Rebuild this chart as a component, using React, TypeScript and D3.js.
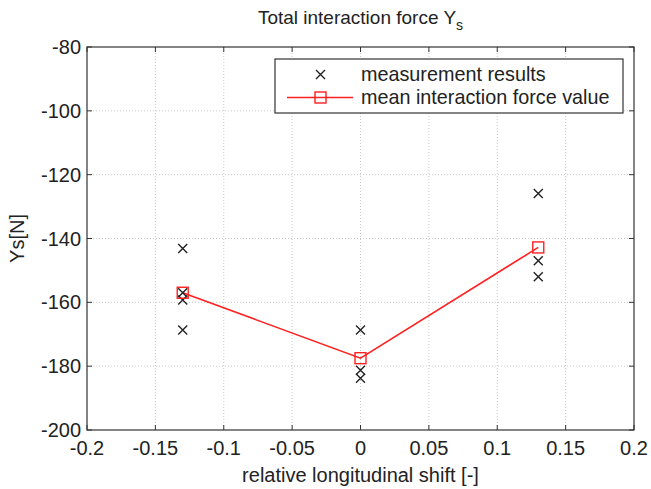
import React from "react";
import * as d3 from "d3";

const shifts = [-0.13, 0, 0.13];
const measurements: number[][] = [
  [-143.1, -157.0, -159.3, -168.7],
  [-168.7, -181.3, -183.8],
  [-125.9, -147.0, -152.0],
];
const means = [-157.0, -177.5, -142.8];
const xTicks = [-0.2, -0.15, -0.1, -0.05, 0, 0.05, 0.1, 0.15, 0.2];
const yTicks = [-80, -100, -120, -140, -160, -180, -200];

const W = 651, H = 489;
const L = 87, R = 634, T = 47, B = 430;
const FONT = "'Liberation Sans', Arial, sans-serif";

export default function App() {
  const x = d3.scaleLinear().domain([-0.2, 0.2]).range([L, R]);
  const y = d3.scaleLinear().domain([-200, -80]).range([B, T]);
  const line = d3.line<number>().x((_, i) => x(shifts[i])).y((d) => y(d));
  const tick = 5;
  const cross = (cx: number, cy: number, s: number, key: string) => (
    <path key={key} d={`M${cx - s},${cy - s}L${cx + s},${cy + s}M${cx - s},${cy + s}L${cx + s},${cy - s}`} stroke="#222" strokeWidth={1.4} fill="none" />
  );
  const sq = 5.5;
  return (
    <svg width={W} height={H} style={{ position: "absolute", left: 0, top: 0, background: "#fff" }} fontFamily={FONT}>
      <rect x={0} y={0} width={W} height={H} fill="#fff" />
      {/* grid */}
      {xTicks.slice(1, -1).map((t) => (
        <line key={"gx" + t} x1={x(t)} x2={x(t)} y1={T} y2={B} stroke="#c8c8c8" strokeWidth={1} strokeDasharray="1,2" />
      ))}
      {yTicks.slice(1, -1).map((t) => (
        <line key={"gy" + t} x1={L} x2={R} y1={y(t)} y2={y(t)} stroke="#c8c8c8" strokeWidth={1} strokeDasharray="1,2" />
      ))}
      {/* ticks */}
      {xTicks.map((t) => (
        <g key={"tx" + t}>
          <line x1={x(t)} x2={x(t)} y1={B} y2={B - tick} stroke="#333" />
          <line x1={x(t)} x2={x(t)} y1={T} y2={T + tick} stroke="#333" />
          <text x={x(t)} y={455} fontSize={20} textAnchor="middle" fill="#222">{String(t)}</text>
        </g>
      ))}
      {yTicks.map((t) => (
        <g key={"ty" + t}>
          <line x1={L} x2={L + tick} y1={y(t)} y2={y(t)} stroke="#333" />
          <line x1={R} x2={R - tick} y1={y(t)} y2={y(t)} stroke="#333" />
          <text x={L - 6} y={y(t) + 7} fontSize={20} textAnchor="end" fill="#222">{String(t)}</text>
        </g>
      ))}
      <rect x={L} y={T} width={R - L} height={B - T} fill="none" stroke="#333" strokeWidth={1.2} />
      {/* data */}
      <path d={line(means) || ""} fill="none" stroke="#ff2020" strokeWidth={1.6} />
      {measurements.map((arr, i) => arr.map((v, j) => cross(x(shifts[i]), y(v), 4.5, `m${i}-${j}`)))}
      {means.map((v, i) => (
        <rect key={"s" + i} x={x(shifts[i]) - sq} y={y(v) - sq} width={2 * sq} height={2 * sq} fill="none" stroke="#ff2020" strokeWidth={1.4} />
      ))}
      {/* legend */}
      <rect x={275} y={59} width={348} height={54} fill="#fff" stroke="#333" strokeWidth={1.2} />
      {cross(320.5, 74.5, 4.5, "lg")}
      <text x={361} y={81} fontSize={19.8} fill="#222">measurement results</text>
      <line x1={287} x2={353} y1={97.5} y2={97.5} stroke="#ff2020" strokeWidth={1.6} />
      <rect x={320.5 - sq} y={97.5 - sq} width={2 * sq} height={2 * sq} fill="none" stroke="#ff2020" strokeWidth={1.4} />
      <text x={361} y={104} fontSize={19.8} fill="#222">mean interaction force value</text>
      {/* title */}
      <text x={360.5} y={24} fontSize={19} textAnchor="middle" fill="#222">
        Total interaction force Y<tspan fontSize={14} dy={6}>s</tspan>
      </text>
      {/* axis labels */}
      <text x={360.5} y={482} fontSize={20} textAnchor="middle" fill="#222">relative longitudinal shift [-]</text>
      <text transform={`translate(24,${(T + B) / 2}) rotate(-90)`} fontSize={20} textAnchor="middle" fill="#222">Ys[N]</text>
    </svg>
  );
}
